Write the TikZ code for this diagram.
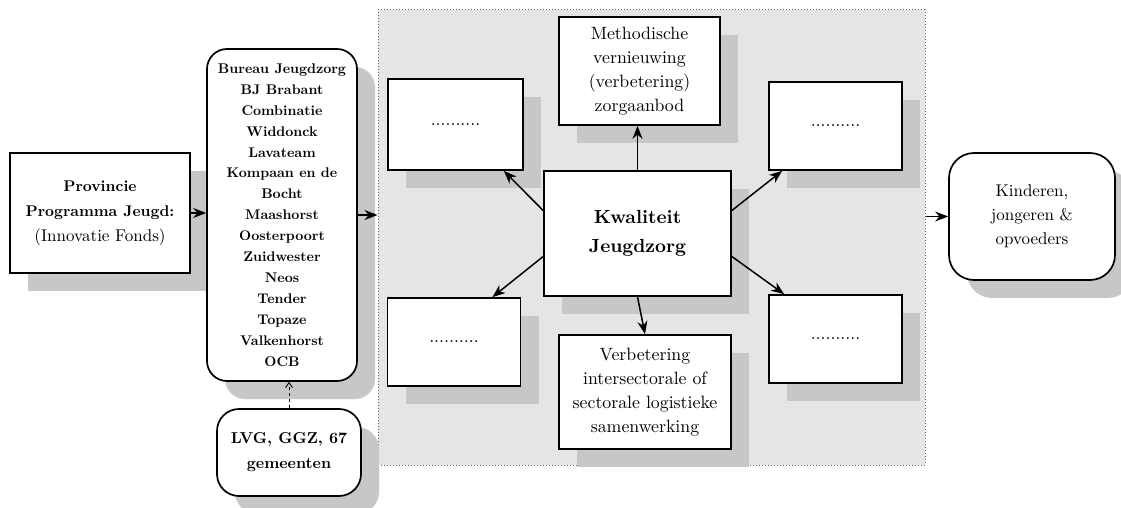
\documentclass[tikz,border=0pt]{standalone}
\usepackage{fontspec}
\setmainfont{lmroman10-regular.otf}[BoldFont=lmroman10-bold.otf,
  ItalicFont=lmroman10-italic.otf]
\usetikzlibrary{arrows.meta,positioning,shadows,calc}

\begin{document}
\begin{tikzpicture}[
    x=1pt,y=-1pt,
    every node/.style={align=center,text=black,inner sep=0pt},
    tekst/.style={font=\fontsize{17.8}{24}\selectfont},
    schaduw/.style={drop shadow={shadow xshift=18pt,shadow yshift=-18pt,
      fill=black!22,opacity=1}},
    doos/.style={draw,fill=white,line width=1.7pt,schaduw},
    rond/.style={doos,rounded corners=22pt},
    pijl/.style={-{Stealth[length=13pt,width=10pt]},line width=1.5pt},
    stippel/.style={-{Straight Barb[length=5pt,width=7pt]},line width=0.9pt,dashed}
  ]
    \useasboundingbox (0,0) rectangle (1121,508);

    % grijs veld met de kwaliteitsthema's
    \node[draw=black!60,dotted,line width=1pt,fill=gray!20,
      minimum width=547pt,minimum height=455pt] (veld) at (651.5,237.5) {};

    \node[doos,minimum width=180pt,minimum height=120pt,
      font=\fontsize{15.5}{25}\selectfont] (provincie) at (100,213)
      {\textbf{Provincie}\\\textbf{Programma Jeugd:}\\
       {\fontsize{17}{25}\selectfont (Innovatie Fonds)}};
    \node[rond,rounded corners=20pt,minimum width=150pt,minimum height=332pt,
      font=\fontsize{14}{20.9}\selectfont\bfseries] (instellingen) at (282,215)
      {Bureau Jeugdzorg\\BJ Brabant\\Combinatie\\Widdonck\\Lavateam\\
       Kompaan en de\\Bocht\\Maashorst\\Oosterpoort\\Zuidwester\\Neos\\
       Tender\\Topaze\\Valkenhorst\\OCB};
    \node[rond,minimum width=144pt,minimum height=87pt,
      font=\fontsize{15.8}{25}\selectfont\bfseries] (gemeenten) at (289,452.5)
      {LVG, GGZ, 67\\gemeenten};

    \node[doos,minimum width=187pt,minimum height=125pt,
      font=\fontsize{19}{29}\selectfont\bfseries] (kwaliteit) at (637.5,233.5)
      {Kwaliteit\\Jeugdzorg};
    \node[doos,tekst,minimum width=161pt,minimum height=108pt] (methodisch) at (639.5,71)
      {Methodische\\vernieuwing\\(verbetering)\\zorgaanbod};
    \node[doos,tekst,minimum width=172pt,minimum height=114pt] (samenwerking) at (645,392)
      {Verbetering\\intersectorale of\\sectorale logistieke\\samenwerking};
    \node[doos,tekst,minimum width=135pt,minimum height=91pt] (linksboven) at (455.5,124.5)
      {..........};
    \node[doos,tekst,minimum width=133pt,minimum height=88pt] (linksonder) at (454,342)
      {..........};
    \node[doos,tekst,minimum width=133pt,minimum height=88pt] (rechtsboven) at (835.5,126)
      {..........};
    \node[doos,tekst,minimum width=133pt,minimum height=88pt] (rechtsonder) at (835.5,339)
      {..........};

    \node[rond,rounded corners=25pt,minimum width=166pt,minimum height=127pt,
      font=\fontsize{17}{24}\selectfont] (kinderen) at (1032,216.5)
      {Kinderen,\\jongeren \&\\opvoeders};

    \draw[pijl] (provincie.east) -- (provincie.east -| instellingen.west);
    \draw[pijl] (instellingen.east) -- (instellingen.east -| veld.west);
    \draw[stippel] (gemeenten.north) -- (gemeenten.north |- instellingen.south);
    \draw[pijl] (veld.east |- kinderen.west) -- (kinderen.west);
    \draw[pijl] (kwaliteit.north) -- (kwaliteit.north |- methodisch.south);
    \draw[pijl] (kwaliteit.south) -- (samenwerking.north);
    \draw[pijl] ($(kwaliteit.west)+(0,-23)$) -- ($(linksboven.south east)+(-20,0)$);
    \draw[pijl] ($(kwaliteit.west)+(0,23)$) -- ($(linksonder.north east)+(-29,0)$);
    \draw[pijl] ($(kwaliteit.east)+(0,-23)$) -- ($(rechtsboven.south west)+(14,0)$);
    \draw[pijl] ($(kwaliteit.east)+(0,23)$) -- ($(rechtsonder.north west)+(16,0)$);
  \end{tikzpicture}
\end{document}
